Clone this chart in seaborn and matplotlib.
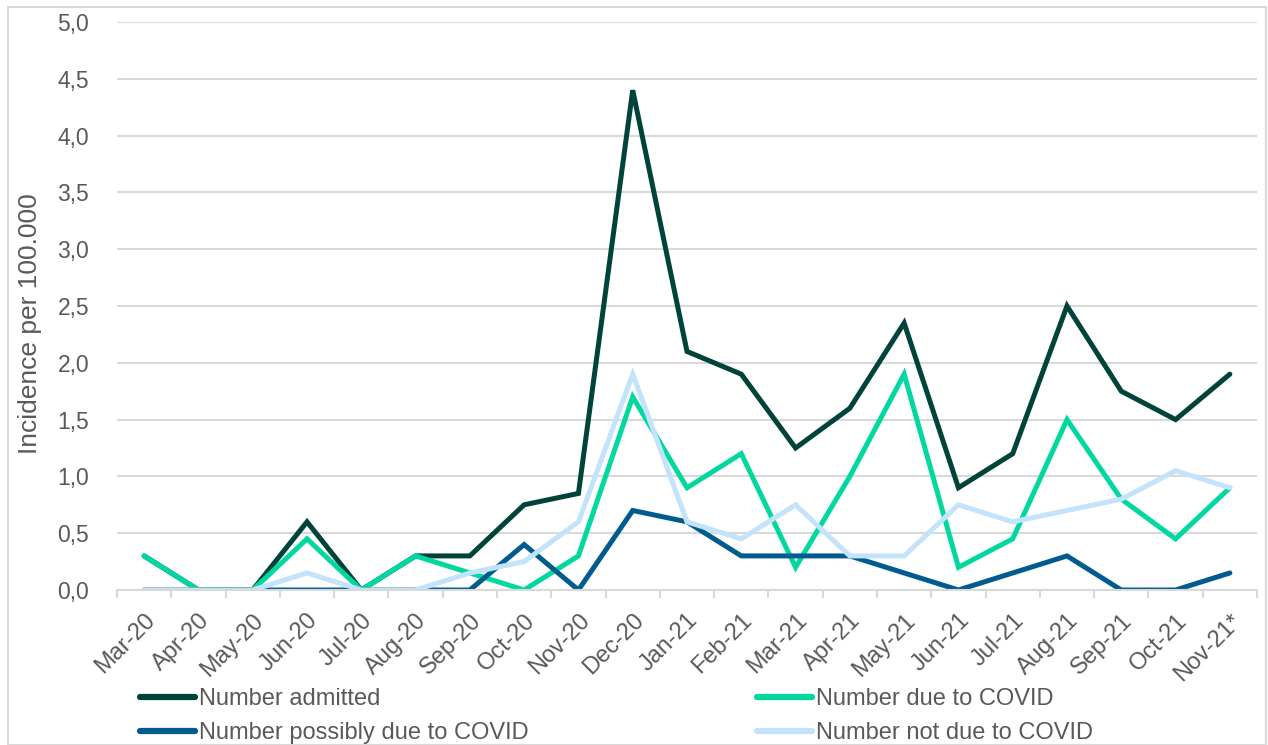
import numpy as np
import pandas as pd
import matplotlib
matplotlib.use("Agg")
import matplotlib.pyplot as plt
from matplotlib.patches import Rectangle
from matplotlib.ticker import FixedLocator, FuncFormatter
import seaborn as sns

months = ["Mar-20", "Apr-20", "May-20", "Jun-20", "Jul-20", "Aug-20", "Sep-20",
          "Oct-20", "Nov-20", "Dec-20", "Jan-21", "Feb-21", "Mar-21", "Apr-21",
          "May-21", "Jun-21", "Jul-21", "Aug-21", "Sep-21", "Oct-21", "Nov-21*"]

admitted = [0.3, 0, 0, 0.6, 0, 0.3, 0.3, 0.75, 0.85, 4.4, 2.1, 1.9, 1.25, 1.6,
            2.35, 0.9, 1.2, 2.5, 1.75, 1.5, 1.9]
due_covid = [0.3, 0, 0, 0.45, 0, 0.3, 0.15, 0, 0.3, 1.7, 0.9, 1.2, 0.2, 1.0,
             1.9, 0.2, 0.45, 1.5, 0.8, 0.45, 0.9]
possibly_covid = [0, 0, 0, 0, 0, 0, 0, 0.4, 0, 0.7, 0.6, 0.3, 0.3, 0.3,
                  0.15, 0, 0.15, 0.3, 0, 0, 0.15]
not_covid = [0, 0, 0, 0.15, 0, 0, 0.15, 0.25, 0.6, 1.9, 0.6, 0.45, 0.75, 0.3,
             0.3, 0.75, 0.6, 0.7, 0.8, 1.05, 0.9]

series_names = ["Number admitted", "Number due to COVID",
                "Number possibly due to COVID", "Number not due to COVID"]
series_values = [admitted, due_covid, possibly_covid, not_covid]
colors = ["#00433A", "#00D8A0", "#005C8E", "#C2E3FB"]

rows = []
for name, vals in zip(series_names, series_values):
    for i, (m, v) in enumerate(zip(months, vals)):
        rows.append({"idx": i, "month": m, "value": v, "series": name})
df = pd.DataFrame(rows)

sns.set_style("white")
plt.rcParams["font.family"] = ["Liberation Sans", "DejaVu Sans"]

W, H = 1268, 745
fig = plt.figure(figsize=(W / 100, H / 100), dpi=100)
ax = fig.add_axes([117 / W, 1 - 590 / H, (1257 - 117) / W, (590 - 22) / H])

sns.lineplot(data=df, x="idx", y="value", hue="series", hue_order=series_names,
             palette=colors, linewidth=3.6, ax=ax, legend=False,
             solid_capstyle="round", solid_joinstyle="miter")

ax.set_xlim(-0.5, len(months) - 0.5)
ax.set_ylim(0, 5)
ax.set_xlabel("")
ax.set_ylabel("")
fig.text(30 / W, 1 - 324 / H, "Incidence per 100.000", rotation=90,
         ha="center", va="center", fontsize=19, color="#595959")

# y axis: decimal comma labels, light gridlines
ax.set_yticks(np.arange(0, 5.01, 0.5))
ax.yaxis.set_major_formatter(FuncFormatter(lambda v, p: f"{v:.1f}".replace(".", ",")))
ax.grid(axis="y", color="#D9D9D9", linewidth=1.5)
ax.grid(axis="x", visible=False)
ax.set_axisbelow(True)
ax.tick_params(axis="y", length=0, pad=20, labelsize=16.5, labelcolor="#595959")

# x axis: labels centred on categories, tick marks between them
ax.set_xticks(range(len(months)))
ax.set_xticklabels(months, rotation=45, ha="right", rotation_mode="anchor")
ax.xaxis.set_minor_locator(FixedLocator(np.arange(-0.5, len(months), 1.0)))
ax.tick_params(axis="x", which="major", length=0, pad=14, labelsize=17,
               labelcolor="#595959")
ax.tick_params(axis="x", which="minor", length=6, width=1.5, color="#D9D9D9",
               direction="out", bottom=True)

for side in ["top", "right", "left"]:
    ax.spines[side].set_visible(False)
ax.spines["bottom"].set_color("#D9D9D9")
ax.spines["bottom"].set_linewidth(1.5)

# legend in two columns, filled row by row
handles = [plt.Line2D([0], [0], color=c, linewidth=4.5, solid_capstyle="round")
           for c in colors]
legend_kw = dict(loc="upper left", frameon=False, fontsize=17,
                 handlelength=2.35, handletextpad=0.15, labelspacing=0.5,
                 borderpad=0, borderaxespad=0, labelcolor="#595959")
fig.legend([handles[0], handles[2]], [series_names[0], series_names[2]],
           bbox_to_anchor=(140 / W, 1 - 688 / H), **legend_kw)
fig.legend([handles[1], handles[3]], [series_names[1], series_names[3]],
           bbox_to_anchor=(757 / W, 1 - 688 / H), **legend_kw)

# outer frame
fig.patches.append(Rectangle((8 / W, 0), 1 - 10 / W, 1 - 7 / H,
                             transform=fig.transFigure, fill=False,
                             edgecolor="#D9D9D9", linewidth=1.5))

fig.savefig("out.png", dpi=100)
